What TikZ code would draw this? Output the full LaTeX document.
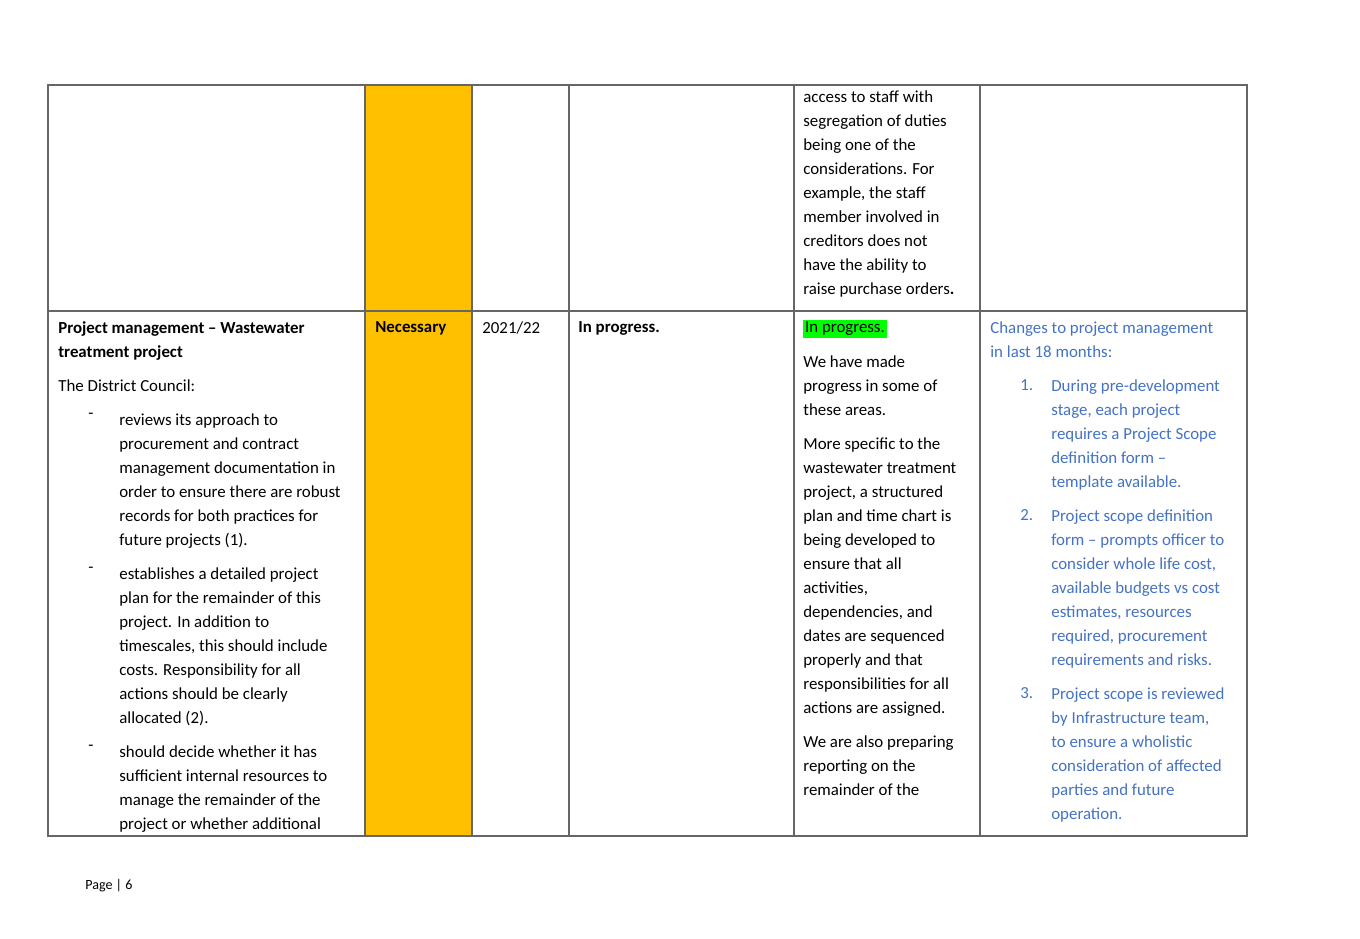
\documentclass[tikz,border=0pt]{standalone}
\usepackage{fontspec}
\setmainfont{Carlito}
\definecolor{amber}{HTML}{FFC000}
\definecolor{hlgreen}{HTML}{00FF00}
\definecolor{noteblue}{HTML}{4472C4}
\newcommand{\ls}{\fontsize{9.6}{13.66}\selectfont}

\begin{document}
\begin{tikzpicture}[x=0.02cm, y=-0.02cm,
    txt/.style={anchor=north west, inner sep=0pt, align=left, font=\ls},
    blue/.style={txt, text=noteblue},
    grid/.style={draw=black!60, line width=0.6pt}]
    \useasboundingbox (0,0) rectangle (1360,939);

    % table frame
    \fill[amber] (365,85) rectangle (472,836);
    \draw[grid] (48,85) rectangle (1247,836);
    \draw[grid] (48,311) -- (1247,311);
    \foreach \x in {365,472,569,794,980} {
        \draw[grid] (\x,85) -- (\x,836);
    }

    % first row
    \node[txt] (prev-text) at (803,90) {access to staff with\\segregation of duties\\being one of the\\considerations. For\\example, the staff\\member involved in\\creditors does not\\have the ability to\\raise purchase orders\textbf{.}};

    % second row, recommendation
    \node[txt] (rec-title) at (58,321) {\textbf{Project management – Wastewater}\\\textbf{treatment project}};
    \node[txt] (rec-intro) at (58,379) {The District Council:};
    \node[txt] (dash-1) at (88,413) {-};
    \node[txt] (rec-1) at (119,413) {reviews its approach to\\procurement and contract\\management documentation in\\order to ensure there are robust\\records for both practices for\\future projects (1).};
    \node[txt] (dash-2) at (88,567) {-};
    \node[txt] (rec-2) at (119,567) {establishes a detailed project\\plan for the remainder of this\\project. In addition to\\timescales, this should include\\costs. Responsibility for all\\actions should be clearly\\allocated (2).};
    \node[txt] (dash-3) at (88,745) {-};
    \node[txt] (rec-3) at (119,745) {should decide whether it has\\sufficient internal resources to\\manage the remainder of the\\project or whether additional};

    \node[txt] (priority) at (375,321) {\textbf{Necessary}};
    \node[txt] (year) at (482,321) {2021/22};
    \node[txt] (status) at (578,321) {\textbf{In progress.}};

    % second row, response
    \node[txt, fill=hlgreen, inner sep=1pt] (resp-flag) at (803,320) {In progress.};
    \node[txt] (resp-1) at (803,355) {We have made\\progress in some of\\these areas.};
    \node[txt] (resp-2) at (803,437) {More specific to the\\wastewater treatment\\project, a structured\\plan and time chart is\\being developed to\\ensure that all\\activities,\\dependencies, and\\dates are sequenced\\properly and that\\responsibilities for all\\actions are assigned.};
    \node[txt] (resp-3) at (803,735) {We are also preparing\\reporting on the\\remainder of the};

    % second row, update
    \node[blue] (upd-intro) at (990,321) {Changes to project management\\in last 18 months:};
    \node[blue] (num-1) at (1020,379) {1.};
    \node[blue] (upd-1) at (1051,379) {During pre-development\\stage, each project\\requires a Project Scope\\definition form –\\template available.};
    \node[blue] (num-2) at (1020,509) {2.};
    \node[blue] (upd-2) at (1051,509) {Project scope definition\\form – prompts officer to\\consider whole life cost,\\available budgets vs cost\\estimates, resources\\required, procurement\\requirements and risks.};
    \node[blue] (num-3) at (1020,687) {3.};
    \node[blue] (upd-3) at (1051,687) {Project scope is reviewed\\by Infrastructure team,\\to ensure a wholistic\\consideration of affected\\parties and future\\operation.};

    \node[txt, font=\fontsize{8}{10}\selectfont] (page) at (85,879) {Page | 6};
\end{tikzpicture}
\end{document}
